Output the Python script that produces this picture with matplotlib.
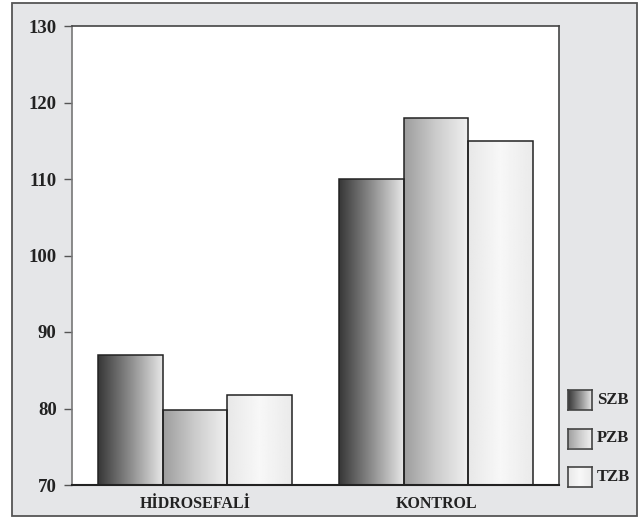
import numpy as np
import matplotlib.pyplot as plt
from matplotlib.patches import Rectangle

groups = ['HİDROSEFALİ', 'KONTROL']
series = ['SZB', 'PZB', 'TZB']
szb = [87, 110]
pzb = [79.8, 118]
tzb = [81.8, 115]
yticks = [70, 80, 90, 100, 110, 120, 130]

# gradient stops (left -> middle -> right) per series
grads = {
    'SZB': [0.22, 0.55, 0.90],
    'PZB': [0.62, 0.80, 0.94],
    'TZB': [0.91, 0.97, 0.92],
}

W, H = 638, 517
fig = plt.figure(figsize=(W / 100, H / 100), dpi=100)
fig.patch.set_facecolor('white')

# gray frame
fig.patches.append(Rectangle((12 / W, 1 / H), 625 / W, 513 / H, transform=fig.transFigure,
                             facecolor='#e5e6e8', edgecolor='#555555', lw=1.3, zorder=-5))

ax = fig.add_axes([72 / W, 1 - 485 / H, (559 - 72) / W, (485 - 26) / H])
ax.set_facecolor('white')


def grad_img(stops, n=64):
    t = np.linspace(0, 1, n)
    v = np.interp(t, [0, 0.5, 1], stops)
    return np.tile(v, (2, 1))


def grad_bar(a, x0, w, h, base, stops):
    im = a.imshow(grad_img(stops), cmap='gray', vmin=0, vmax=1, aspect='auto',
                  extent=(x0, x0 + w, base, h), zorder=2, interpolation='bilinear')
    r = Rectangle((x0, base), w, h - base, facecolor='none', edgecolor='#222222', lw=1.1, zorder=3)
    a.add_patch(r)
    im.set_clip_path(r)


width = 0.268
x = np.arange(len(groups))
for i, (name, vals) in enumerate(zip(series, [szb, pzb, tzb])):
    for j, v in enumerate(vals):
        grad_bar(ax, x[j] + (i - 1.5) * width, width, v, 70, grads[name])

ax.set_xlim(-0.51, 1.51)
ax.set_ylim(70, 130)
ax.set_yticks(yticks)
ax.set_xticks(x)
ax.set_xticklabels(groups)

fnt = {'family': 'Liberation Serif', 'weight': 'bold'}
for lab in ax.get_yticklabels():
    lab.set_fontproperties(fnt)
    lab.set_fontsize(13.5)
    lab.set_color('#222222')
for lab in ax.get_xticklabels():
    lab.set_fontproperties(fnt)
    lab.set_fontsize(11.5)
    lab.set_color('#222222')
ax.tick_params(axis='y', length=6, width=1, color='#555555', pad=5)
ax.tick_params(axis='x', length=0, pad=8)
for s in ['top', 'right']:
    ax.spines[s].set_color('#444444')
    ax.spines[s].set_linewidth(1.2)
ax.spines['left'].set_color('#777777')
ax.spines['left'].set_linewidth(1.2)
ax.spines['bottom'].set_color('#222222')
ax.spines['bottom'].set_linewidth(1.5)

# legend boxes
for k, name in enumerate(series):
    top = 390 + k * 38.5
    lax = fig.add_axes([568 / W, 1 - (top + 20) / H, 24 / W, 20 / H])
    lax.imshow(grad_img(grads[name]), cmap='gray', vmin=0, vmax=1, aspect='auto',
               interpolation='bilinear')
    lax.set_xticks([])
    lax.set_yticks([])
    for s in lax.spines.values():
        s.set_color('#444444')
        s.set_linewidth(1.2)
    fig.text(597 / W, 1 - (top + 10) / H, name, fontdict=fnt, fontsize=12,
             color='#222222', va='center', ha='left')

fig.savefig('out.png', dpi=100)
